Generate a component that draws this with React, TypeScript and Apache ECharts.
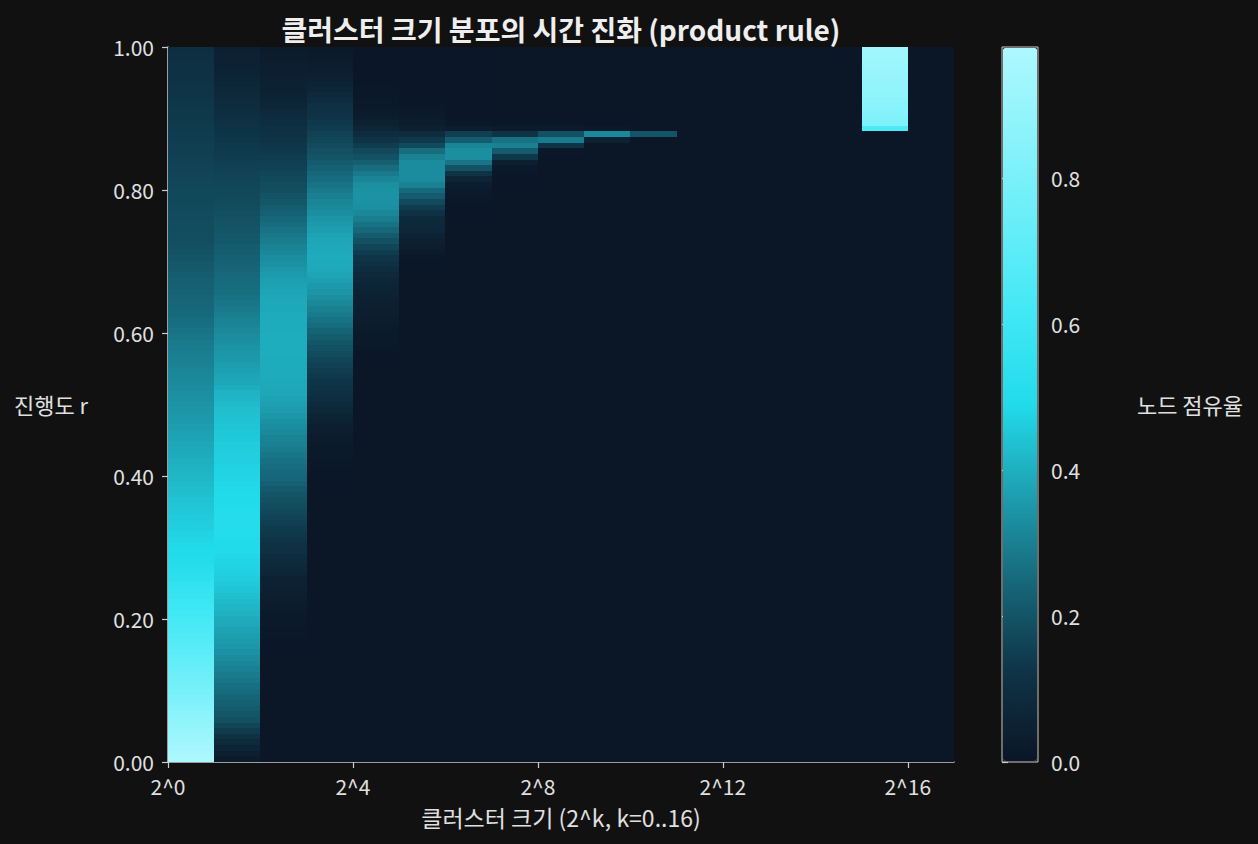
import React, { useEffect, useRef } from "react";
import * as echarts from "echarts";

// ---- data: node share per cluster-size bin k (columns), rows listed from r=1 (top) downward ----
const ROWS = 127;
const K_BINS = [0, 1, 2, 3, 4, 5, 6, 7, 8, 9, 10, 11, 12, 13, 14, 15, 16];

const col0 = [
  0.100, 0.103, 0.106, 0.109, 0.112, 0.115, 0.118, 0.122,
  0.124, 0.127, 0.129, 0.132, 0.134, 0.137, 0.139, 0.142, 0.145,
  0.148, 0.150, 0.153, 0.156, 0.159, 0.161, 0.164, 0.167, 0.170,
  0.172, 0.173, 0.175, 0.177, 0.178, 0.180, 0.182, 0.184, 0.186,
  0.190, 0.196, 0.202, 0.208, 0.214, 0.220, 0.226,
  0.230, 0.234, 0.238, 0.242, 0.246, 0.250,
  0.257, 0.264, 0.271, 0.278, 0.285, 0.291,
  0.296, 0.301, 0.306, 0.311, 0.316, 0.321,
  0.326, 0.331, 0.336, 0.341, 0.346, 0.351,
  0.357, 0.363, 0.369, 0.375, 0.381, 0.387,
  0.393, 0.399, 0.405, 0.411, 0.417, 0.423,
  0.428, 0.434, 0.440, 0.446, 0.451, 0.457, 0.462,
  0.468, 0.474, 0.480,
  0.485, 0.490, 0.495, 0.500,
  0.513, 0.526, 0.539, 0.552,
  0.566, 0.578, 0.590, 0.602, 0.614, 0.626,
  0.638, 0.650, 0.662, 0.674, 0.686, 0.698,
  0.712, 0.726, 0.740, 0.754, 0.768, 0.781,
  0.797, 0.813, 0.829, 0.845, 0.861, 0.877,
  0.890, 0.903, 0.916, 0.929, 0.942, 0.955, 0.970,
];

const col1 = [
  0.040, 0.043, 0.046, 0.050, 0.055, 0.060, 0.066, 0.072, 0.078, 0.084,
  0.090, 0.097, 0.103, 0.110, 0.117, 0.124, 0.130, 0.135, 0.140, 0.144,
  0.149, 0.154, 0.158, 0.162, 0.166, 0.170, 0.174, 0.178, 0.182, 0.187,
  0.192, 0.197, 0.202, 0.207, 0.212, 0.218, 0.224, 0.230, 0.236, 0.242,
  0.247, 0.251, 0.255, 0.259, 0.268, 0.277, 0.286, 0.295, 0.303, 0.310,
  0.318, 0.326, 0.334, 0.341, 0.348, 0.355, 0.362, 0.369, 0.376, 0.383,
  0.395, 0.410, 0.416, 0.423, 0.430, 0.436, 0.440, 0.444, 0.449, 0.453,
  0.458, 0.461, 0.465, 0.468, 0.471, 0.475, 0.478, 0.481, 0.485, 0.488,
  0.491, 0.495, 0.498, 0.500, 0.500, 0.498, 0.496, 0.494, 0.491, 0.488,
  0.484, 0.478, 0.472, 0.466, 0.460, 0.453, 0.444, 0.434, 0.424, 0.414,
  0.404, 0.393, 0.384, 0.375, 0.366, 0.357, 0.347, 0.337, 0.325, 0.313,
  0.301, 0.289, 0.277, 0.265, 0.253, 0.240, 0.228, 0.215, 0.203, 0.190,
  0.165, 0.140, 0.110, 0.085, 0.060, 0.040, 0.020,
];

const col2 = [
  0.020, 0.024, 0.027, 0.031, 0.035, 0.040, 0.045, 0.050, 0.055, 0.060,
  0.065, 0.077, 0.088, 0.100, 0.107, 0.114, 0.120, 0.127, 0.134, 0.141,
  0.149, 0.157, 0.165, 0.172, 0.179, 0.186, 0.196, 0.206, 0.218, 0.231,
  0.244, 0.256, 0.268, 0.280, 0.292, 0.304, 0.316, 0.327, 0.337, 0.347,
  0.357, 0.366, 0.372, 0.378, 0.381, 0.384, 0.387, 0.390, 0.391, 0.392,
  0.393, 0.394, 0.395, 0.395, 0.394, 0.393, 0.392, 0.391, 0.390, 0.387,
  0.384, 0.381, 0.374, 0.366, 0.358, 0.348, 0.337, 0.327, 0.317, 0.308,
  0.300, 0.289, 0.277, 0.266, 0.258, 0.250, 0.242, 0.228, 0.214, 0.200,
  0.190, 0.180, 0.170, 0.160, 0.150, 0.140, 0.131, 0.122, 0.113, 0.105,
  0.095, 0.085, 0.073, 0.062, 0.051, 0.045, 0.040, 0.034, 0.029, 0.024,
  0.020, 0.015, 0.012, 0.010, 0.008, 0.006, 0.004, 0.002,
];

const col3 = [
  0.015, 0.020, 0.025, 0.030, 0.035, 0.045, 0.055, 0.065, 0.078, 0.092,
  0.105, 0.115, 0.125, 0.135, 0.145, 0.155, 0.165, 0.177, 0.189, 0.200,
  0.215, 0.230, 0.245, 0.258, 0.272, 0.285, 0.297, 0.309, 0.320, 0.332,
  0.344, 0.355, 0.364, 0.373, 0.380, 0.385, 0.389, 0.390, 0.388, 0.384,
  0.376, 0.366, 0.355, 0.343, 0.330, 0.315, 0.300, 0.287, 0.270, 0.253,
  0.237, 0.220, 0.203, 0.190, 0.180, 0.166, 0.155, 0.145, 0.135, 0.126,
  0.117, 0.108, 0.097, 0.085, 0.073, 0.061, 0.049, 0.038, 0.032, 0.026,
  0.021, 0.017, 0.013, 0.010, 0.007, 0.004, 0.002,
];

const col4 = [
  0.005, 0.005, 0.005, 0.005, 0.005, 0.005, 0.005, 0.007, 0.009, 0.011,
  0.014, 0.020, 0.030, 0.045, 0.065, 0.090, 0.120, 0.145, 0.170, 0.195,
  0.225, 0.255, 0.285, 0.310, 0.330, 0.338, 0.340, 0.338, 0.330, 0.315,
  0.295, 0.270, 0.245, 0.215, 0.190, 0.165, 0.145, 0.125, 0.105, 0.090,
  0.078, 0.068, 0.060, 0.053, 0.047, 0.042, 0.037, 0.032, 0.028, 0.024,
  0.020, 0.016, 0.012, 0.009, 0.006, 0.003,
];

const col5 = [
  0.004, 0.004, 0.004, 0.004, 0.004, 0.004, 0.004, 0.004, 0.004, 0.004,
  0.008, 0.012, 0.020, 0.030, 0.040, 0.090, 0.135, 0.175, 0.255, 0.300,
  0.325, 0.325, 0.325, 0.325, 0.300, 0.250, 0.215, 0.175, 0.145, 0.115,
  0.080, 0.075, 0.070, 0.055, 0.040, 0.028, 0.018, 0.010, 0.006, 0.003,
];

const col6 = [
  0.002, 0.002, 0.002, 0.002, 0.002, 0.002, 0.002, 0.002, 0.002, 0.002,
  0.002, 0.002, 0.005, 0.010, 0.030, 0.150, 0.220, 0.310, 0.330, 0.330,
  0.275, 0.195, 0.120, 0.058, 0.030, 0.018, 0.012, 0.007, 0.003,
];

const col7 = [
  0, 0, 0, 0, 0, 0, 0, 0, 0, 0, 0, 0, 0,
  0.005, 0.020, 0.120, 0.270, 0.300, 0.215, 0.130, 0.035, 0.015, 0.008, 0.003,
];

const col8 = [
  0, 0, 0, 0, 0, 0, 0, 0, 0, 0, 0, 0, 0, 0,
  0.020, 0.190, 0.290, 0.120, 0.010,
];

const col9 = [
  0, 0, 0, 0, 0, 0, 0, 0, 0, 0, 0, 0, 0, 0,
  0.012, 0.320, 0.050,
];

const col10 = [
  0, 0, 0, 0, 0, 0, 0, 0, 0, 0, 0, 0, 0, 0, 0,
  0.200,
];

const col15 = [
  0.935, 0.930, 0.920, 0.915, 0.905, 0.900, 0.890, 0.885, 0.875, 0.865,
  0.855, 0.845, 0.830, 0.815, 0.650,
];

const COLUMNS: number[][] = [
  col0, col1, col2, col3, col4, col5, col6, col7, col8, col9, col10,
  [], [], [], [], col15, [],
];

const X_TICKS = [0, 4, 8, 12, 16];
const X_TICK_LABELS = ["2^0", "2^4", "2^8", "2^12", "2^16"];
const CB_TICKS = [0, 0.2, 0.4, 0.6, 0.8];
const V_MAX = 0.98;
const CMAP = [
  "#0b1627", "#0e3446", "#166779", "#1da0b1", "#22dbea",
  "#41e8f5", "#66eef8", "#8af3fb", "#aef8fe",
];

const TITLE = "클러스터 크기 분포의 시간 진화 (product rule)";
const X_NAME = "클러스터 크기 (2^k, k=0..16)";
const Y_NAME = "진행도 r";
const CB_NAME = "노드 점유율";

const FONT = "'Noto Sans CJK KR', 'Noto Sans', sans-serif";
const TXT = "#e0e0e0";
const SPINE = "#cccccc";

export default function App() {
  const ref = useRef<HTMLDivElement>(null);

  useEffect(() => {
    document.documentElement.style.background = "#111111";
    document.body.style.margin = "0";
    document.body.style.background = "#111111";
    if (!ref.current) return;
    const chart = echarts.init(ref.current, null, { renderer: "svg" });

    const cells: number[][] = [];
    K_BINS.forEach((k) => {
      const col = COLUMNS[k] || [];
      for (let n = 0; n < ROWS; n++) {
        const v = col[n] ?? 0;
        cells.push([k, 1 - (n + 1) / ROWS, 1 - n / ROWS, v]);
      }
    });

    const option: any = {
      animation: false,
      backgroundColor: "#111111",
      textStyle: { fontFamily: FONT },
      grid: [
        { left: 168, top: 47, width: 786, height: 715, containLabel: false },
        {
          left: 1002, top: 47, width: 36, height: 715,
          show: true, borderColor: SPINE, borderWidth: 1, backgroundColor: "transparent",
        },
      ],
      xAxis: [
        {
          type: "value", gridIndex: 0, min: 0, max: 17,
          axisLine: { show: true, lineStyle: { color: SPINE, width: 1.5 } },
          axisTick: { show: true, length: 6, customValues: X_TICKS, lineStyle: { color: SPINE, width: 1.2 } },
          axisLabel: {
            customValues: X_TICKS, color: TXT, fontSize: 21, margin: 13, fontFamily: FONT,
            formatter: (v: number) => X_TICK_LABELS[X_TICKS.indexOf(v)] ?? "",
          },
          splitLine: { show: false },
        },
        { type: "value", gridIndex: 1, min: 0, max: 1, show: false },
      ],
      yAxis: [
        {
          type: "value", gridIndex: 0, min: 0, max: 1, interval: 0.2,
          axisLine: { show: true, lineStyle: { color: SPINE, width: 1.5 } },
          axisTick: { show: true, length: 6, lineStyle: { color: SPINE, width: 1.2 } },
          axisLabel: {
            color: TXT, fontSize: 21, margin: 14, fontFamily: FONT,
            formatter: (v: number) => v.toFixed(2),
          },
          splitLine: { show: false },
        },
        {
          type: "value", gridIndex: 1, position: "right", min: 0, max: V_MAX,
          axisLine: { show: false },
          axisTick: { show: true, length: 6, customValues: CB_TICKS, lineStyle: { color: SPINE, width: 1.2 } },
          axisLabel: {
            customValues: CB_TICKS, color: TXT, fontSize: 21, margin: 13, fontFamily: FONT,
            formatter: (v: number) => v.toFixed(1),
          },
          splitLine: { show: false },
        },
      ],
      visualMap: {
        type: "continuous",
        min: 0, max: V_MAX,
        dimension: 3,
        seriesIndex: 0,
        calculable: false,
        orient: "vertical",
        left: 1003, top: 48,
        itemWidth: 34, itemHeight: 713,
        padding: 0,
        text: null,
        inRange: { color: CMAP },
        hoverLink: false,
      },
      series: [
        {
          type: "custom",
          coordinateSystem: "cartesian2d",
          xAxisIndex: 0, yAxisIndex: 0,
          silent: true,
          encode: { x: 0, y: [1, 2] },
          data: cells,
          renderItem: (params: any, api: any) => {
            const k = api.value(0);
            const r0 = api.value(1);
            const r1 = api.value(2);
            const a = api.coord([k, r1]);
            const b = api.coord([k + 1, r0]);
            const x0 = Math.round(a[0]);
            const y0 = Math.round(a[1]);
            const x1 = Math.round(b[0]);
            const y1 = Math.round(b[1]);
            return {
              type: "rect",
              shape: { x: x0, y: y0, width: x1 - x0, height: y1 - y0 },
              style: { fill: api.visual("color") },
            };
          },
        },
      ],
      graphic: [
        {
          type: "text", x: 561, y: 29,
          style: {
            text: TITLE, fill: "#eeeeee", fontSize: 28, fontWeight: "bold", fontFamily: FONT,
            align: "center", verticalAlign: "middle",
          },
        },
        {
          type: "text", x: 561, y: 817,
          style: { text: X_NAME, fill: TXT, fontSize: 23, fontFamily: FONT, align: "center", verticalAlign: "middle" },
        },
        {
          type: "text", x: 51, y: 404,
          style: { text: Y_NAME, fill: TXT, fontSize: 22, fontFamily: FONT, align: "center", verticalAlign: "middle" },
        },
        {
          type: "text", x: 1190, y: 404,
          style: { text: CB_NAME, fill: TXT, fontSize: 22, fontFamily: FONT, align: "center", verticalAlign: "middle" },
        },
      ],
    };

    chart.setOption(option);
    return () => chart.dispose();
  }, []);

  return (
    <div
      ref={ref}
      style={{ width: 1258, height: 844, position: "fixed", left: 0, top: 0, background: "#111111" }}
    />
  );
}
